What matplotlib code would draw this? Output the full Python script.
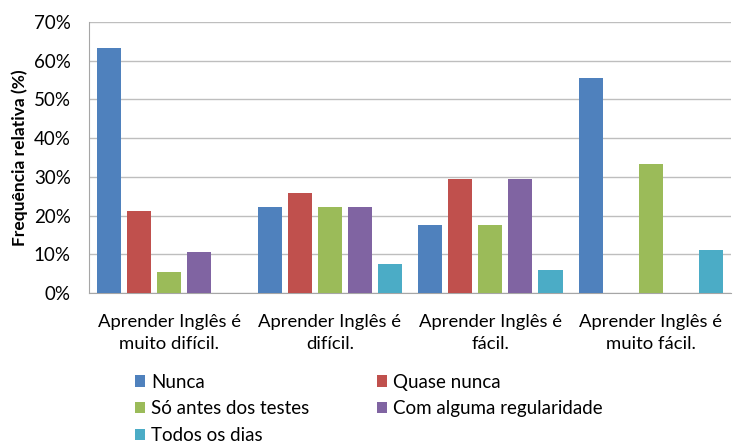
import numpy as np
import matplotlib
matplotlib.use("Agg")
import matplotlib.pyplot as plt

plt.rcParams['font.family'] = ['Lato', 'DejaVu Sans']

# categories and series (percent)
categories = ["Aprender Inglês é\nmuito difícil.", "Aprender Inglês é\ndifícil.",
              "Aprender Inglês é\nfácil.", "Aprender Inglês é\nmuito fácil."]
series_names = ["Nunca", "Quase nunca", "Só antes dos testes",
                "Com alguma regularidade", "Todos os dias"]
nunca = [63.2, 22.2, 17.6, 55.6]
quase_nunca = [21.1, 25.9, 29.4, 0.0]
so_antes = [5.3, 22.2, 17.6, 33.3]
com_alguma = [10.5, 22.2, 29.4, 0.0]
todos_dias = [0.0, 7.4, 5.9, 11.1]
colors = ["#4F81BD", "#C0504D", "#9BBB59", "#8064A2", "#4BACC6"]

values = [nunca, quase_nunca, so_antes, com_alguma, todos_dias]

fig = plt.figure(figsize=(7.33, 4.48), dpi=100)
ax = fig.add_axes([0.1214, 0.346, 0.876, 0.605])

x = np.arange(len(categories))
slot = 0.1875
width = 0.15
bars = []
for i, (name, vals, c) in enumerate(zip(series_names, values, colors)):
    b = ax.bar(x + (i - 2) * slot, vals, width, color=c, label=name, zorder=3)
    bars.append(b)

ax.set_xlim(-0.5, len(categories) - 0.5)
ax.set_ylim(0, 70)
ax.set_yticks(range(0, 71, 10))
ax.set_yticklabels([f"{v}%" for v in range(0, 71, 10)], fontsize=13.5)
ax.set_xticks(x)
ax.set_xticklabels(categories, fontsize=13.3, linespacing=1.45)
ax.tick_params(axis='y', length=0, pad=13)
ax.tick_params(axis='x', length=0, pad=15)
ax.yaxis.grid(True, color="#BEBEBE", linewidth=1, zorder=0)
for s in ["top", "right"]:
    ax.spines[s].set_visible(False)
for s in ["left", "bottom"]:
    ax.spines[s].set_color("#A6A6A6")
ax.set_ylabel("Frequência relativa (%)", fontsize=12.5, fontweight='bold', labelpad=4)

# legend: two columns, filled row by row like the original
order = [0, 2, 4, 1, 3]
fig.legend([bars[i] for i in order], [series_names[i] for i in order],
           ncol=2, loc='upper left', bbox_to_anchor=(0.184, 0.166),
           frameon=False, fontsize=13.5, handlelength=0.55, handleheight=0.55,
           handletextpad=0.32, columnspacing=3.6, labelspacing=0.52,
           borderaxespad=0, borderpad=0)

fig.savefig("out.png", dpi=100)
